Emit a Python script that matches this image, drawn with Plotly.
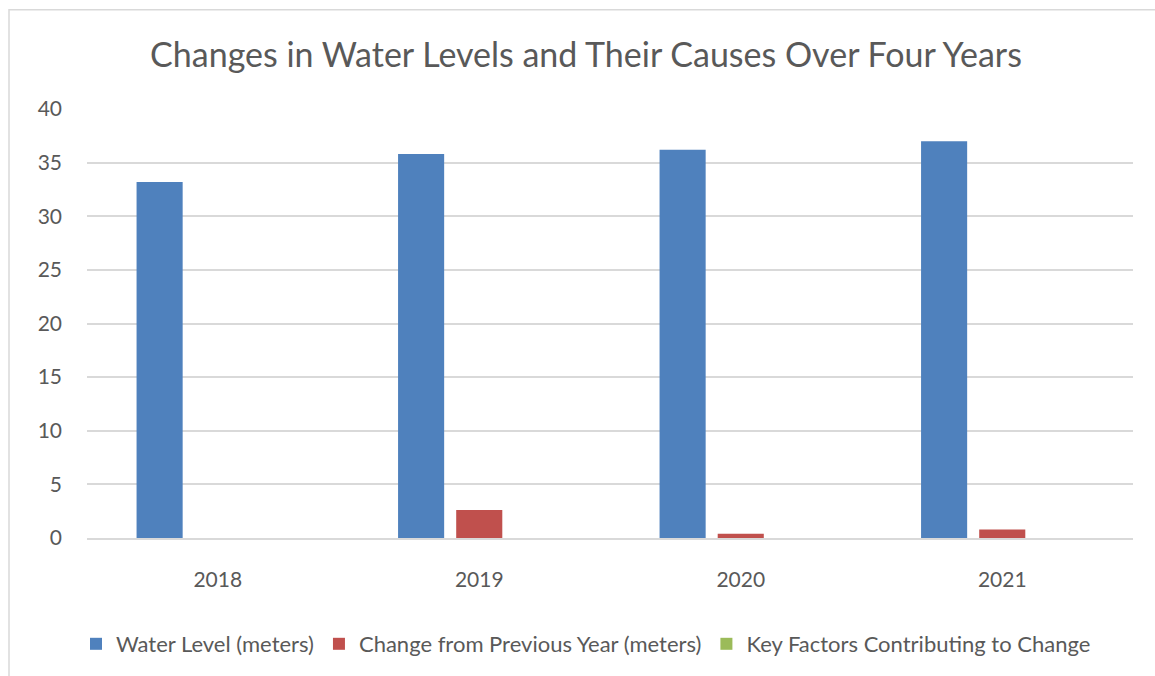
import plotly.graph_objects as go

years = ["2018", "2019", "2020", "2021"]
water_level = [33.2, 35.8, 36.2, 37.0]
change_prev = [None, 2.6, 0.4, 0.8]
key_factors = [0, 0, 0, 0]

series_names = ["Water Level (meters)", "Change from Previous Year (meters)",
                "Key Factors Contributing to Change"]
colors = ["#4f81bd", "#c0504d", "#9bbb59"]

FONT = "Lato, 'Open Sans', sans-serif"
GRAY = "#595959"

fig = go.Figure()
for name, vals, col in zip(series_names, [water_level, change_prev, key_factors], colors):
    fig.add_trace(go.Bar(x=years, y=vals, name=name, marker_color=col,
                         marker_line_width=0))

W, H = 1155, 676
L, R, T, B = 87, 22, 109, 137
pw, ph = W - L - R, H - T - B

def px_x(p):
    return (p - L) / pw

def px_y(p):
    return (H - B - p) / ph

fig.update_layout(
    width=W, height=H,
    margin=dict(l=L, r=R, t=T, b=B),
    paper_bgcolor="white", plot_bgcolor="white",
    barmode="group", bargap=0.333, bargroupgap=0.207,
    font=dict(family=FONT, color=GRAY, size=21),
    title=dict(text="Changes in Water Levels and Their Causes Over Four Years",
               x=586 / W, xanchor="center", y=1 - 55 / H, yanchor="middle",
               font=dict(family=FONT, size=34, color=GRAY)),
    legend=dict(orientation="h", x=px_x(586), xanchor="center",
                y=px_y(644), yanchor="middle",
                font=dict(family=FONT, size=22, color=GRAY),
                itemwidth=30, traceorder="normal"),
    xaxis=dict(showgrid=False, showline=True, linecolor="#d9d9d9", linewidth=1.5,
               ticks="", ticklabelstandoff=22,
               tickfont=dict(family=FONT, size=21, color=GRAY)),
    yaxis=dict(range=[0, 40], dtick=5, showgrid=True, gridcolor="#d9d9d9",
               gridwidth=1.5, zeroline=False, showline=False, ticks="",
               ticklabelstandoff=24,
               tickfont=dict(family=FONT, size=21, color=GRAY)),
    shapes=[dict(type="rect", xref="paper", yref="paper",
                 x0=px_x(9), x1=px_x(1160), y0=px_y(685), y1=px_y(9.5),
                 line=dict(color="#d9d9d9", width=1.5), layer="below")],
)

fig.write_html("out.html")
